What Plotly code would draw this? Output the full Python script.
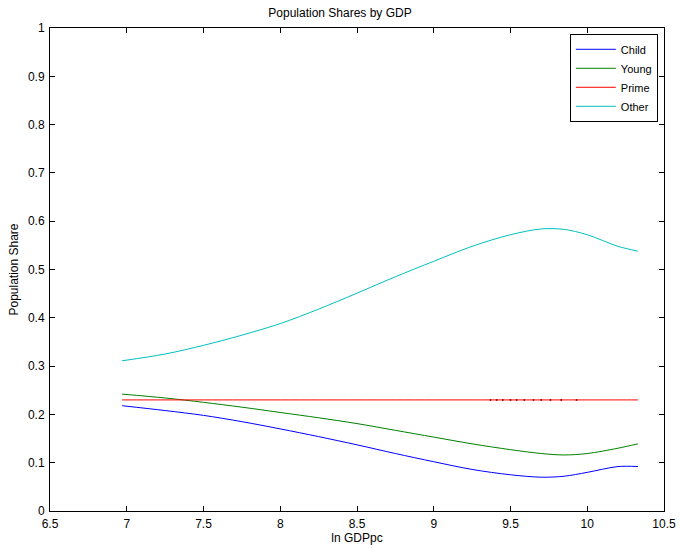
import plotly.graph_objects as go

ln_gdp = [6.97, 7.25, 7.5, 7.75, 8.0, 8.25, 8.5, 8.75, 9.0, 9.25, 9.5, 9.7, 9.85, 10.0, 10.2, 10.33]
child = [0.218, 0.208, 0.198, 0.185, 0.170, 0.154, 0.137, 0.119, 0.102, 0.086, 0.075, 0.070, 0.072, 0.080, 0.092, 0.092]
young = [0.242, 0.234, 0.225, 0.215, 0.204, 0.193, 0.181, 0.167, 0.153, 0.139, 0.127, 0.119, 0.116, 0.119, 0.130, 0.139]
prime = [0.23] * len(ln_gdp)
other = [0.311, 0.325, 0.343, 0.364, 0.388, 0.418, 0.451, 0.485, 0.517, 0.548, 0.572, 0.584, 0.583, 0.572, 0.548, 0.538]

prime_dots_x = [9.37, 9.41, 9.45, 9.50, 9.54, 9.59, 9.65, 9.70, 9.76, 9.83, 9.93]
prime_dots_y = [0.23] * len(prime_dots_x)

series = [("Child", child, "#0000FF"), ("Young", young, "#008000"),
          ("Prime", prime, "#FF0000"), ("Other", other, "#00BFBF")]

fig = go.Figure()
for name, ys, col in series:
    fig.add_trace(go.Scatter(x=ln_gdp, y=ys, name=name, mode="lines",
                             line=dict(color=col, width=1, shape="spline", smoothing=0.9)))
fig.add_trace(go.Scatter(x=prime_dots_x, y=prime_dots_y, mode="markers", showlegend=False,
                         marker=dict(color="#B00000", size=2), hoverinfo="skip"))

font = "Liberation Sans, Arial, Helvetica, sans-serif"
axis_common = dict(showgrid=False, zeroline=False, showline=True, linecolor="black", linewidth=1,
                   mirror="ticks", ticks="inside", ticklen=5, tickcolor="black", automargin=False,
                   tickfont=dict(family=font, size=12, color="black"))

fig.update_layout(
    width=680, height=548,
    margin=dict(l=50, r=16, t=28, b=37),
    paper_bgcolor="white", plot_bgcolor="white",
    title=dict(text="Population Shares by GDP", x=0.5, xanchor="center", y=0.985, yanchor="top",
               font=dict(family=font, size=12, color="black")),
    xaxis=dict(range=[6.5, 10.5], dtick=0.5, tick0=6.5, ticklabelstandoff=2,
               title=dict(text="ln GDPpc", font=dict(family=font, size=12, color="black"), standoff=1),
               **axis_common),
    yaxis=dict(range=[0, 1], dtick=0.1, tick0=0, ticklabelstandoff=2,
               title=dict(text="Population Share", font=dict(family=font, size=12, color="black"), standoff=6),
               **axis_common),
    legend=dict(x=0.99, y=0.988, xanchor="right", yanchor="top", bgcolor="white",
                bordercolor="black", borderwidth=1, font=dict(family=font, size=11, color="black"),
                tracegroupgap=0, itemwidth=40),
    showlegend=True,
)

fig.write_html("out.html")
